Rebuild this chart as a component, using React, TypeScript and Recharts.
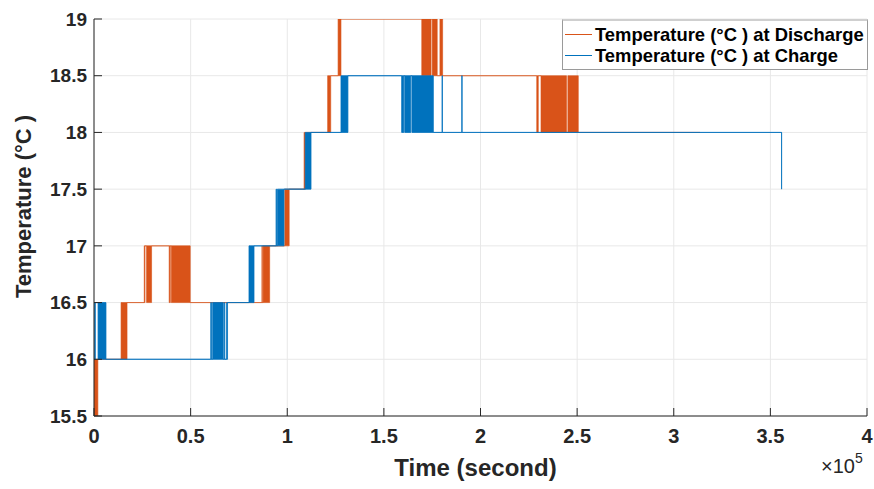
import React from 'react';
import { ComposedChart, Area, XAxis, YAxis, CartesianGrid, Legend } from 'recharts';

// Each step: [time (s), lower temperature, upper temperature].
// Where lower < upper the sensor is toggling rapidly between the two levels.
type Step = [number, number, number];

const dischargeSteps: Step[] = [
  [0, 15.5, 16],
  [2000, 16, 16],
  [14000, 16, 16.5],
  [17100, 16.5, 16.5],
  [26000, 16.5, 17],
  [26400, 17, 17],
  [27200, 16.5, 17],
  [29800, 17, 17],
  [38900, 16.5, 17],
  [39500, 17, 17],
  [40000, 16.5, 17],
  [49800, 16.5, 16.5],
  [86900, 16.5, 17],
  [87100, 16.5, 16.5],
  [87500, 16.5, 17],
  [90900, 17, 17],
  [98700, 17, 17.5],
  [101000, 17.5, 17.5],
  [108700, 17.5, 18],
  [109500, 18, 18],
  [120900, 18, 18.5],
  [122500, 18.5, 18.5],
  [126300, 18.5, 19],
  [127800, 19, 19],
  [169600, 18.5, 19],
  [174400, 19, 19],
  [175000, 18.5, 19],
  [177600, 18.5, 18.5],
  [179000, 18.5, 19],
  [180400, 18.5, 18.5],
  [229100, 18, 18.5],
  [229900, 18.5, 18.5],
  [231300, 18, 18.5],
  [244500, 18, 18],
  [245200, 18, 18.5],
  [250600, 18, 18],
  [313600, 18, 18],
];

const chargeSteps: Step[] = [
  [0, 16, 16],
  [300, 16, 16.5],
  [700, 16.5, 16.5],
  [2100, 16, 16.5],
  [6200, 16, 16],
  [60400, 16, 16.5],
  [60800, 16, 16],
  [61400, 16, 16.5],
  [66900, 16, 16],
  [67400, 16, 16.5],
  [67700, 16, 16],
  [68600, 16, 16.5],
  [69100, 16.5, 16.5],
  [80200, 16.5, 17],
  [82800, 17, 17],
  [94200, 17, 17.5],
  [94500, 17, 17],
  [94900, 17, 17.5],
  [98300, 17.5, 17.5],
  [109300, 17.5, 18],
  [112300, 18, 18],
  [127800, 18, 18.5],
  [131400, 18.5, 18.5],
  [159200, 18, 18.5],
  [160300, 18.5, 18.5],
  [160800, 18, 18.5],
  [163900, 18.5, 18.5],
  [164500, 18, 18.5],
  [175600, 18, 18],
  [180100, 18, 18.5],
  [180300, 18, 18],
  [190300, 18, 18.5],
  [190500, 18, 18],
  [355800, 17.5, 17.5],
];

const timeTicks = [0, 50000, 100000, 150000, 200000, 250000, 300000, 350000, 400000];
const tempTicks = [15.5, 16, 16.5, 17, 17.5, 18, 18.5, 19];

const seriesNames = ['Temperature (°C ) at Discharge', 'Temperature (°C ) at Charge'];

const ORANGE = '#D95319';
const BLUE = '#0072BD';
const INK = '#262626';
const FONT = '"Liberation Sans", Arial, Helvetica, sans-serif';

const toRows = (steps: Step[]) => steps.map(([t, lo, hi]) => ({ t, range: [lo, hi] }));

const fmtTime = (v: number) => String(v / 100000);

const YTitle = (props: any) => {
  const vb = props.viewBox || { x: 0, y: 0, width: 0, height: 0 };
  const cx = 23;
  const cy = vb.y + vb.height / 2 - 11;
  return (
    <text
      x={cx}
      y={cy}
      transform={`rotate(-90, ${cx}, ${cy})`}
      textAnchor="middle"
      dominantBaseline="central"
      fill={INK}
      fontFamily={FONT}
      fontWeight="bold"
      fontSize={22}
    >
      Temperature (°C )
    </text>
  );
};

const XTitle = (props: any) => {
  const vb = props.viewBox || { x: 0, y: 0, width: 0, height: 0 };
  return (
    <g>
      <text
        x={vb.x + vb.width / 2 - 5}
        y={467}
        textAnchor="middle"
        dominantBaseline="central"
        fill={INK}
        fontFamily={FONT}
        fontWeight="bold"
        fontSize={24}
      >
        Time (second)
      </text>
      <text x={821} y={473} fill={INK} fontFamily={FONT} fontSize={20}>
        ×10
        <tspan dy={-10} fontSize={14}>5</tspan>
      </text>
    </g>
  );
};

const LegendBox = () => {
  const colors = [ORANGE, BLUE];
  return (
    <div
      style={{
        background: '#fff',
        borderTop: '2px solid #cfcfcf',
        borderLeft: '1px solid #9a9a9a',
        borderBottom: '1px solid #9a9a9a',
        borderRight: '1px solid #9a9a9a',
        padding: '3px 3px 3px 2px',
        fontFamily: FONT,
        fontWeight: 'bold',
        fontSize: 18.4,
        color: '#000',
        whiteSpace: 'nowrap',
      }}
    >
      {seriesNames.map((name, i) => (
        <div key={name} style={{ display: 'flex', alignItems: 'center', height: 21 }}>
          <span style={{ display: 'inline-block', width: 27, height: 0, borderTop: `1.5px solid ${colors[i]}`, marginRight: 3 }} />
          <span>{name}</span>
        </div>
      ))}
    </div>
  );
};

export default function App() {
  return (
    <div style={{ position: 'absolute', left: 0, top: 0, width: 874, height: 489, background: '#fff' }}>
      <ComposedChart width={874} height={489} margin={{ top: 19, right: 7, bottom: 0, left: 0 }}>
        <CartesianGrid xAxisId="x" yAxisId="y" stroke="#e8e8e8" strokeWidth={1} />
        <XAxis
          xAxisId="x"
          type="number"
          dataKey="t"
          domain={[0, 400000]}
          ticks={timeTicks}
          interval={0}
          allowDataOverflow
          tickFormatter={fmtTime}
          height={73}
          tickSize={-8}
          tickMargin={21}
          axisLine={{ stroke: INK }}
          tickLine={{ stroke: INK }}
          tick={{ fill: INK, fontSize: 20, fontWeight: 'bold', fontFamily: FONT }}
          label={<XTitle />}
        />
        <XAxis
          xAxisId="top"
          orientation="top"
          type="number"
          domain={[0, 400000]}
          ticks={timeTicks}
          interval={0}
          height={0}
          tick={false}
          tickSize={-8}
          axisLine={{ stroke: INK }}
          tickLine={{ stroke: INK }}
        />
        <YAxis
          yAxisId="y"
          type="number"
          domain={[15.5, 19]}
          ticks={tempTicks}
          interval={0}
          allowDataOverflow
          width={94}
          tickSize={-8}
          tickMargin={15}
          axisLine={{ stroke: INK }}
          tickLine={{ stroke: INK }}
          tick={{ fill: INK, fontSize: 19, fontWeight: 'bold', fontFamily: FONT }}
          label={<YTitle />}
        />
        <YAxis
          yAxisId="right"
          orientation="right"
          type="number"
          domain={[15.5, 19]}
          ticks={tempTicks}
          interval={0}
          width={0}
          tick={false}
          tickSize={-8}
          axisLine={{ stroke: INK }}
          tickLine={{ stroke: INK }}
        />
        <Area
          xAxisId="x"
          yAxisId="y"
          name={seriesNames[0]}
          data={toRows(dischargeSteps)}
          dataKey="range"
          type="stepAfter"
          stroke={ORANGE}
          strokeWidth={1}
          strokeOpacity={0.6}
          fill={ORANGE}
          fillOpacity={1}
          dot={false}
          activeDot={false}
          isAnimationActive={false}
        />
        <Area
          xAxisId="x"
          yAxisId="y"
          name={seriesNames[1]}
          data={toRows(chargeSteps)}
          dataKey="range"
          type="stepAfter"
          stroke={BLUE}
          strokeWidth={1}
          strokeOpacity={0.75}
          fill={BLUE}
          fillOpacity={1}
          dot={false}
          activeDot={false}
          isAnimationActive={false}
        />
        <Legend
          layout="horizontal"
          verticalAlign="middle"
          align="center"
          content={<LegendBox />}
          wrapperStyle={{ position: 'absolute', left: 562, top: 19, width: 'auto', height: 'auto' }}
        />
      </ComposedChart>
    </div>
  );
}
